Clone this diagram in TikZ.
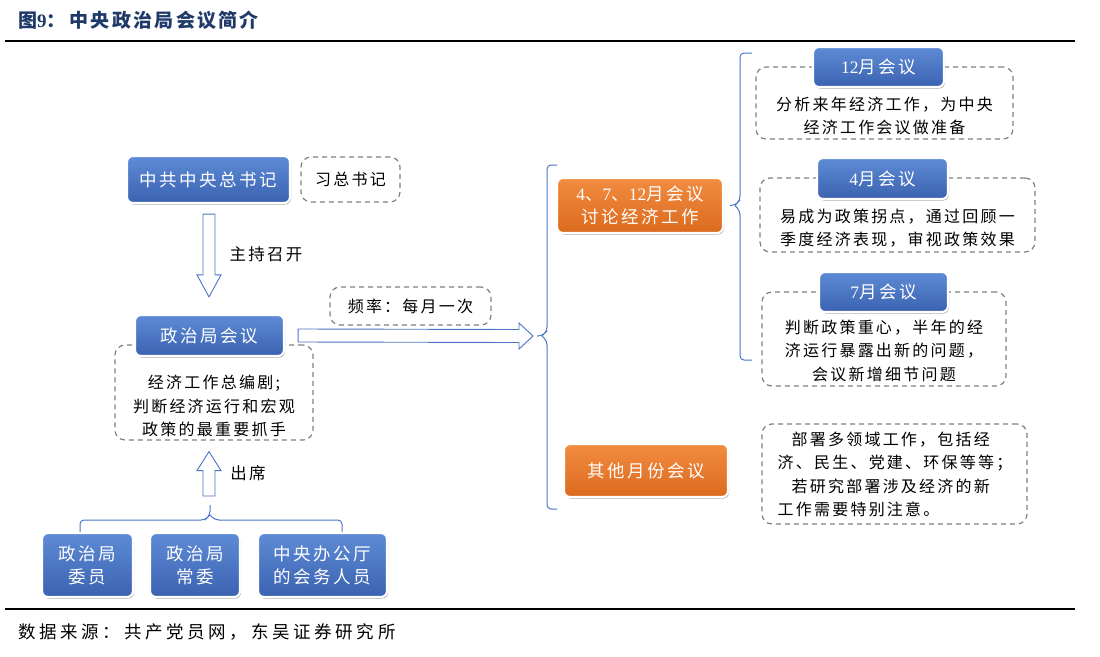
\documentclass[tikz,border=0pt]{standalone}
\usepackage{fontspec}
\setmainfont{Liberation Serif}
\newfontfamily\cjk{Noto Sans CJK SC}[LetterSpace=14]
\newfontfamily\cjkb{Noto Sans CJK SC}[LetterSpace=12]
\newfontfamily\cjks{Noto Sans CJK SC}[LetterSpace=21]
\usetikzlibrary{shadows,calc}
\definecolor{blueA}{HTML}{5E8BD6}
\definecolor{blueB}{HTML}{3A62B0}
\definecolor{orA}{HTML}{F28C40}
\definecolor{orB}{HTML}{DB6A1E}
\definecolor{ablue}{HTML}{4A74C4}
\definecolor{dgray}{HTML}{808080}
\definecolor{ttl}{HTML}{1F3A68}
\tikzset{
 bbox/.style={rounded corners=6pt, top color=blueA, bottom color=blueB, draw=white, line width=2.2pt,
   drop shadow={shadow xshift=1pt, shadow yshift=-1.5pt, opacity=0.35, fill=black},
   text=white, font=\cjk\fontsize{17.5}{23}\selectfont, align=center, inner sep=0pt},
 obox/.style={bbox, top color=orA, bottom color=orB},
 dbox/.style={draw=dgray, dash pattern=on 5pt off 4pt, line width=1.2pt, rounded corners=10pt,
   inner sep=0pt, align=center, font=\cjk\fontsize{16}{23.5}\selectfont},
 txt/.style={inner sep=0pt, font=\cjk\fontsize{16}{23.5}\selectfont, align=center},
 hol/.style={draw=ablue, fill=white, line width=0.9pt},
 brace/.style={draw=ablue, line width=1pt, rounded corners=4pt},
}
\begin{document}
\begin{tikzpicture}[x=1pt,y=-1pt]
\useasboundingbox (0,0) rectangle (1100,656);
% title and rules
\node[anchor=west, inner sep=0pt, text=ttl, font=\cjkb\bfseries\fontsize{19}{22}\selectfont] (title) at (18,20) {图{\rmfamily\bfseries 9}：\hspace{4pt}中央政治局会议简介};
\draw[line width=2pt] (5,41) coordinate (r1a) -- (1075,41) coordinate (r1b);
\draw[line width=2pt] (5,609) coordinate (r2a) -- (1075,609) coordinate (r2b);
\node[anchor=west, inner sep=0pt, font=\cjks\fontsize{17.5}{20}\selectfont] (src) at (18,632) {数据来源：共产党员网，东吴证券研究所};

% dashed boxes first
\node[dbox, minimum width=99pt, minimum height=45pt] (xi) at (350.5,179.5) {习总书记};
\node[dbox, minimum width=198pt, minimum height=95pt] (desc) at (214,392.5) {};
\node[txt] (desctxt) at (214,406) {经济工作总编剧;\\判断经济运行和宏观\\政策的最重要抓手};
\node[dbox, minimum width=161pt, minimum height=38pt] (freq) at (410.5,306) {频率：每月一次};

\node[dbox, minimum width=257pt, minimum height=72pt] (d12) at (884.5,103) {};
\node[txt] (t12) at (884.5,116) {分析来年经济工作，为中央\\经济工作会议做准备};
\node[dbox, minimum width=275pt, minimum height=74pt] (d4) at (897.5,215) {};
\node[txt] (t4) at (897.5,228) {易成为政策拐点，通过回顾一\\季度经济表现，审视政策效果};
\node[dbox, minimum width=244pt, minimum height=94pt] (d7) at (884,339) {};
\node[txt] (t7) at (884,350.5) {判断政策重心，半年的经\\济运行暴露出新的问题，\\会议新增细节问题};
\node[dbox, minimum width=265pt, minimum height=100pt] (doth) at (894.5,474) {};
\node[txt, align=left] (toth) at (895,474.5) {\hspace{14pt}部署多领域工作，包括经\\济、民生、党建、环保等等；\\\hspace{14pt}若研究部署涉及经济的新\\工作需要特别注意。};

% blue boxes
\node[bbox, minimum width=163pt, minimum height=47pt] (sec) at (208.5,179.5) {中共中央总书记};
\node[bbox, minimum width=149pt, minimum height=41pt] (pb) at (209.5,335.5) {政治局会议};
\node[bbox, minimum width=91pt, minimum height=64pt] (m1) at (87.5,565) {政治局\\委员};
\node[bbox, minimum width=90pt, minimum height=64pt] (m2) at (195,565) {政治局\\常委};
\node[bbox, minimum width=129pt, minimum height=64pt] (m3) at (322.5,565) {中央办公厅\\的会务人员};
\node[bbox, minimum width=131pt, minimum height=40pt] (b12) at (878.5,67) {{\rmfamily 12}月会议};
\node[bbox, minimum width=131pt, minimum height=41pt] (b4) at (882.5,178.5) {{\rmfamily 4}月会议};
\node[bbox, minimum width=129pt, minimum height=40pt] (b7) at (883.5,292) {{\rmfamily 7}月会议};
% orange boxes
\node[obox, minimum width=166pt, minimum height=55pt] (o1) at (640,205.5) {{\rmfamily 4}、{\rmfamily 7}、{\rmfamily 12}月会议\\讨论经济工作};
\node[obox, minimum width=164pt, minimum height=53pt] (o2) at (646,470.5) {其他月份会议};

% hollow arrows
\coordinate (dA) at ($(sec.south)+(0.5,10)$);
\coordinate (dB) at ($(pb.north)+(-0.5,-17)$);
\draw[hol] ($(dA)+(-6,0)$) -- ($(dA)+(6,0)$) -- ($(dB)+(6,-22)$) -- ($(dB)+(12,-22)$) -- (dB) -- ($(dB)+(-12,-22)$) -- ($(dB)+(-6,-22)$) -- cycle;
\node[txt, font=\cjk\fontsize{16.5}{20}\selectfont] (lbl1) at (266,254) {主持召开};

\coordinate (uA) at (209,496);
\coordinate (uB) at ($(desc.south)+(-5,11)$);
\draw[hol] ($(uA)+(-6,0)$) -- ($(uA)+(6,0)$) -- ($(uB)+(6,19)$) -- ($(uB)+(12,19)$) -- (uB) -- ($(uB)+(-12,19)$) -- ($(uB)+(-6,19)$) -- cycle;
\node[txt, font=\cjk\fontsize{16.5}{20}\selectfont] (lbl2) at (248,473) {出席};

\coordinate (rA) at ($(pb.east)+(13,0)$);
\coordinate (rB) at (533,336);
\draw[hol] ($(rA)+(0,-6.5)$) -- ($(rB)+(-14,-6.5)$) -- ($(rB)+(-14,-13)$) -- (rB) -- ($(rB)+(-14,13)$) -- ($(rB)+(-14,6.5)$) -- ($(rA)+(0,6.5)$) -- cycle;

% braces
\coordinate (bt) at (210,505);
\draw[brace] (80,532) -- (80,520) -- (205,520) -- (210,515) -- (bt);
\draw[brace] (342,532) -- (342,520) -- (215,520) -- (210,515);

\coordinate (lt) at (537,336);
\draw[brace] (557,165) -- (547,165) -- (547,331) -- (542,336) -- (lt);
\draw[brace] (557,509) -- (547,509) -- (547,341) -- (542,336);

\coordinate (rt) at ($(o1.east)+(6,0)$);
\draw[brace] (752,53) -- (740,53) -- (740,200) -- (735,205.5) -- (rt);
\draw[brace] (752,360) -- (740,360) -- (740,211) -- (735,205.5);
\end{tikzpicture}
\end{document}
